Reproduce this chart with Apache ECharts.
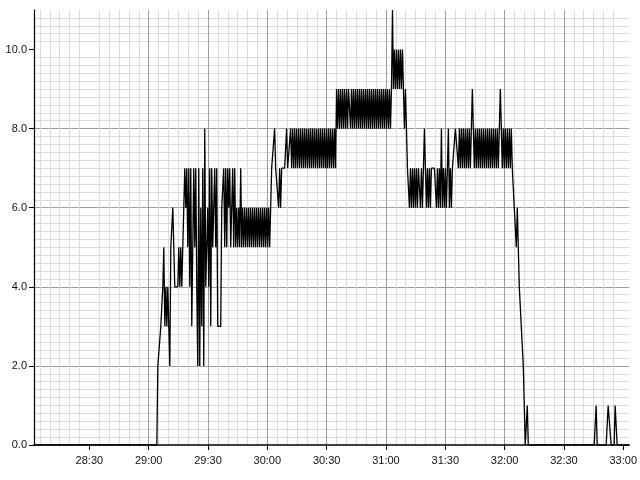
<!DOCTYPE html>
<html>
<head>
<meta charset="utf-8">
<script src="https://cdn.jsdelivr.net/npm/echarts@6/dist/echarts.min.js"></script>
<style>
  html, body { margin: 0; padding: 0; background: #fff; }
  #chart { width: 640px; height: 480px; }
</style>
</head>
<body>
<div id="chart"></div>
<script>
// time of first sample (28:02) and sample spacing, seconds
var startSec = 28 * 60 + 2;
var stepSec = 0.505;

// samples, in order
var idleStart = [
  0,0,0,0,0,0,0,0,0,0,0,0,0,0,0,0,0,0,0,0,
  0,0,0,0,0,0,0,0,0,0,0,0,0,0,0,0,0,0,0,0,
  0,0,0,0,0,0,0,0,0,0,0,0,0,0,0,0,0,0,0,0,
  0,0,0,0,0,0,0,0,0,0,0,0,0,0,0,0,0,0,0,0,
  0,0,0,0,0,0,0,0,0,0,0,0,0,0,0,0,0,0,0,0,
  0,0,0,0,0,0,0,0,0,0,0,0,0,0,0,0,0,0,0,0,
  0,0,0,0
];
var rampUp = [
  2,2,2,3,3,4,5,3,4,3,
  4,3,2,5,5,6,6,4,4,4,
  4,5,4,5,4,5,6,7,6,7,
  5,7,4,7,3,3,7,5,7,4,
  2,7,2,6,3,7,2,8,4,4,
  6,4,7,3,7,5,6,7,5,7,
  3,3,3,3,6,6,7,5,7,5,
  7,6,7,5
];
var levelFive = [
  6,7,5,7,5,6,5,6,5,7,
  5,6,5,6,5,6,5,6,5,6,
  5,6,5,6,5,6,5,6,5,6,
  5,6,5,6,5,6,5,6,5,6
];
var levelSeven = [
  7,7,7,8,7,7,7,6,7,6,
  7,7,7,7,7,8,7,7,7,8,
  7,8,7,8,7,8,7,8,7,8,
  7,8,7,8,7,8,7,8,7,8,
  7,8,7,8,7,8,7,8,7,8,
  7,8,7,8,7,8,7,8,7,8,
  7,8,7,8,7
];
var peak = [
  9,8,9,8,9,8,9,8,9,8,
  9,8,9,9,8,9,8,9,8,9,
  8,9,8,9,8,9,8,9,8,9,
  8,9,8,9,8,9,8,9,8,9,
  8,9,8,9,8,9,8,9,8,9,
  8,9,8,9,8,9,
  11,9,10,9,10,9,10,9,10,9,10,9,8,9,8
];
var levelSix = [
  7,7,
  6,7,6,7,6,7,6,7,6,7,7,6,7,6,7,8,7,6,7,6,7,6,7,
  7,7,7,7,
  6,7,6,7,6,8,6,7,6,7,6,7,8,6,7,6,7,
  7,7,
  8,8,8,
  7,8,7,8,7,8,7,8,7,8,
  7,8,7,8,9,8,7,8,7,8,
  7,8,7,8,7,8,7,8,7,8,
  7,8,7,8,7,8,7,8,7,8,
  7,8,9,8,7,8,7,8,7,8,
  7,8,7,8,7,7
];
var rampDown = [
  6,6,5,6,5,4,4,3,3,2,2,0,0,1,
  0,0,0,0,0,0,0,0,0,0,0,0,0,0,0,0,0,0,0,0,
  0,0,0,0,0,0,0,0,0,0,0,0,0,0,0,0,0,0,0,0,
  0,0,0,0,0,0,0,0,0,0,0,0,0,0,0,0,0,0,0,0,
  0,0,0,0,0,0,0,0,
  1,
  0,0,0,0,0,0,0,0,0,0,0,
  1,1,1,
  0,0,0,0,
  1,1,
  0,0,0,0,0,0,0,0,0,0,0,0,0
];

// tick labels
var xTicks = [1710, 1740, 1770, 1800, 1830, 1860, 1890, 1920, 1950, 1980];
var yTicks = [0, 2, 4, 6, 8, 10];

var values = [].concat(idleStart, rampUp, levelFive, levelSeven, peak, levelSix, rampDown);
var seriesData = values.map(function(v, i) {
  return [startSec + i * stepSec, v];
});

function mmss(v) {
  var m = Math.floor(v / 60);
  var s = Math.round(v - m * 60);
  return m + ":" + (s < 10 ? "0" + s : s);
}

var chart = echarts.init(document.getElementById("chart"));
var option = {
  animation: false,
  backgroundColor: "#fff",
  grid: {
    left: 34,
    right: 10,
    top: 10,
    bottom: 35
  },
  xAxis: {
    type: "value",
    min: startSec,
    max: 33 * 60 + 3,
    minInterval: 30,
    maxInterval: 30,
    axisLine: { lineStyle: { color: "#000", width: 1.5 } },
    axisTick: { length: 5, customValues: xTicks, lineStyle: { color: "#000" } },
    axisLabel: {
      customValues: xTicks,
      formatter: mmss,
      margin: 10,
      color: "#111",
      fontSize: 11,
      fontFamily: "Liberation Sans, Arial, sans-serif"
    },
    minorTick: { show: false, splitNumber: 6 },
    splitLine: { show: true, showMinLine: false, showMaxLine: false, lineStyle: { color: "#9c9c9c", width: 1 } },
    minorSplitLine: { show: true, lineStyle: { color: "#dadada", width: 1 } }
  },
  yAxis: {
    type: "value",
    min: 0,
    max: 11,
    interval: 2,
    axisLine: { show: true, lineStyle: { color: "#000", width: 1.2 } },
    axisTick: { show: true, length: 5, customValues: yTicks, lineStyle: { color: "#000" } },
    axisLabel: {
      customValues: yTicks,
      formatter: function(v) { return v.toFixed(1); },
      margin: 7,
      color: "#111",
      fontSize: 11,
      fontFamily: "Liberation Sans, Arial, sans-serif"
    },
    minorTick: { show: false, splitNumber: 10 },
    splitLine: { show: true, showMinLine: false, showMaxLine: false, lineStyle: { color: "#9c9c9c", width: 1 } },
    minorSplitLine: { show: true, lineStyle: { color: "#dadada", width: 1 } }
  },
  series: [
    {
      type: "line",
      data: seriesData,
      showSymbol: false,
      symbol: "none",
      sampling: null,
      lineStyle: { color: "#000", width: 1.3 },
      z: 5
    }
  ]
};
chart.setOption(option);
</script>
</body>
</html>
